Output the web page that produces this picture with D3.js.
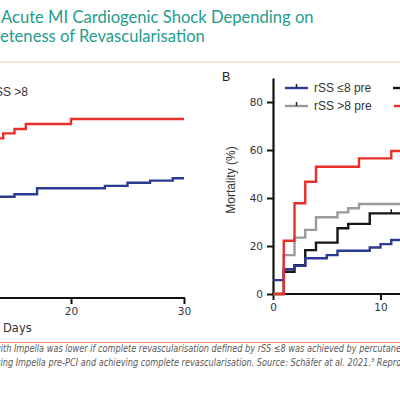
<!DOCTYPE html>
<html><head><meta charset="utf-8">
<script src="https://cdn.jsdelivr.net/npm/d3@7"></script>
<style>html,body{margin:0;padding:0;background:#fff;}svg{display:block;}</style>
</head><body>
<svg id="c" width="400" height="400"></svg>
<script>
// ---------- Data ----------
const titleLines = ["Acute MI Cardiogenic Shock Depending on", "eteness of Revascularisation"];
const captionLines = [
  "with Impella was lower if complete revascularisation defined by rSS \u22648 was achieved by percutaneous",
  "using Impella pre-PCI and achieving complete revascularisation. Source: Sch\u00e4fer at al. 2021.\u00b3 Reproduced"
];
// Panel A (partially visible): days, mortality %
const aRedDays = [13, 14, 15, 16, 20, 30];
const aRedVals = [66.5, 68.6, 70.4, 72.5, 74.6, 74.6];
const aBlueDays = [13, 15, 17, 23, 25, 27, 29, 30];
const aBlueVals = [42.2, 43.2, 45.7, 46.7, 48, 48.9, 49.9, 49.9];
const aTicks = [20, 30];
const aLegend = ["rSS >8"];
// Panel B
const bBlueDays = [0, 1, 2, 3, 5, 6, 9, 10, 11, 14];
const bBlueVals = [5.8, 10.3, 11.8, 14.9, 16.2, 18, 19.4, 20.8, 22.5, 22.5];
const bGrayDays = [0, 1, 2, 3, 4, 6, 7, 8, 14];
const bGrayVals = [0, 16.2, 23.5, 26.7, 32, 34, 35.7, 37.5, 37.5];
const bBlackDays = [0, 1, 2, 3, 4, 6, 7, 9, 14];
const bBlackVals = [0, 9.3, 12, 18.3, 21.4, 27.4, 29.2, 33.6, 33.6];
const bBlackCensor = [11];
const bRedDays = [0, 1, 2, 3, 4, 8, 11, 14];
const bRedVals = [0, 22.2, 37.8, 46.8, 53, 56.5, 59.6, 59.6];
const bYTicks = [0, 20, 40, 60, 80];
const bXTicks = [0, 10];
const bLegend = ["rSS \u22648 pre", "rSS >8 pre"];

const C = {blue:"#2d3a92", gray:"#9a9a9a", black:"#151515", red:"#e8302b", teal:"#1f9c8d", text:"#333"};

const svg = d3.select("#c");
svg.append("rect").attr("width",400).attr("height",400).attr("fill","#fff");

// ---------- Title ----------
const tfont = "Lato, 'Open Sans', sans-serif";
svg.append("text").attr("x",1).attr("y",23).attr("font-family",tfont).attr("font-size",16.6)
  .attr("fill",C.teal).text(titleLines[0]);
svg.append("text").attr("x",0).attr("y",42).attr("font-family",tfont).attr("font-size",16.6)
  .attr("fill",C.teal).text(titleLines[1]);

svg.append("line").attr("x1",0).attr("x2",400).attr("y1",62).attr("y2",62)
  .attr("stroke","#f5c3b6").attr("stroke-width",1.2);
svg.append("line").attr("x1",0).attr("x2",400).attr("y1",342.5).attr("y2",342.5)
  .attr("stroke","#f2956c").attr("stroke-width",1.2);

// caption
const cfont = "'Liberation Sans Narrow','DejaVu Sans Condensed','Liberation Sans',sans-serif";
svg.append("text").attr("transform","translate(-6,352) scale(0.875,1)").attr("font-family",cfont).attr("font-style","italic")
  .attr("font-size",10.4).attr("fill","#5a5a5a").text(captionLines[0]);
svg.append("text").attr("transform","translate(-9,366) scale(0.875,1)").attr("font-family",cfont).attr("font-style","italic")
  .attr("font-size",10.4).attr("fill","#5a5a5a").text(captionLines[1]);

const afont = "'DejaVu Sans', Verdana, sans-serif";
const lfont = "'Liberation Sans', Arial, sans-serif";

function zip(d, v){ return d.map((x,i)=>[x, v[i]]); }

// ---------- Panel A ----------
const xA = d3.scaleLinear().domain([20,30]).range([71,184]);
const yA = d3.scaleLinear().domain([0,90]).range([298,82]);
const lineA = d3.line().x(d=>xA(d[0])).y(d=>yA(d[1])).curve(d3.curveStepAfter);

const gAx = svg.append("g").attr("transform","translate(0,298)")
  .call(d3.axisBottom(xA).tickValues(aTicks).tickSize(6).tickSizeOuter(0).tickPadding(4).tickFormat(d3.format("d")));
gAx.select(".domain").remove();
gAx.append("line").attr("x1",xA(0)).attr("x2",xA(30)+1).attr("stroke","#111").attr("stroke-width",2);
gAx.selectAll(".tick line").attr("stroke","#111").attr("stroke-width",2);
gAx.selectAll(".tick text").attr("font-family",afont).attr("font-size",10.5).attr("fill",C.text);
svg.append("text").attr("x",3).attr("y",332).attr("font-family",afont).attr("font-size",11.5)
  .attr("fill",C.text).text("Days");

svg.append("path").datum(zip(aBlueDays,aBlueVals)).attr("d",lineA).attr("fill","none")
  .attr("stroke",C.blue).attr("stroke-width",2.4);
svg.append("path").datum(zip(aRedDays,aRedVals)).attr("d",lineA).attr("fill","none")
  .attr("stroke",C.red).attr("stroke-width",2.4);
svg.append("text").attr("x",28).attr("y",96).attr("text-anchor","end").attr("font-family",lfont)
  .attr("font-size",12).attr("fill",C.text).text(aLegend[0]);

// ---------- Panel B ----------
const xB = d3.scaleLinear().domain([0,10]).range([273,380.5]);
const yB = d3.scaleLinear().domain([0,90]).range([294,78]);
const lineB = d3.line().x(d=>xB(d[0])).y(d=>yB(d[1])).curve(d3.curveStepAfter);

const gBy = svg.append("g").attr("transform","translate(273,0)")
  .call(d3.axisLeft(yB).tickValues(bYTicks).tickSize(6).tickSizeOuter(0).tickPadding(4));
gBy.select(".domain").attr("stroke","#111").attr("stroke-width",2.2);
gBy.selectAll(".tick line").attr("stroke","#111").attr("stroke-width",2);
gBy.selectAll(".tick text").attr("font-family",afont).attr("font-size",10.5).attr("fill",C.text);

const gBx = svg.append("g").attr("transform","translate(0,294)")
  .call(d3.axisBottom(xB).tickValues(bXTicks).tickSize(6).tickSizeOuter(0).tickPadding(4));
gBx.select(".domain").remove();
gBx.append("line").attr("x1",272).attr("x2",410).attr("stroke","#111").attr("stroke-width",2.2);
gBx.selectAll(".tick line").attr("stroke","#111").attr("stroke-width",2);
gBx.selectAll(".tick text").attr("font-family",afont).attr("font-size",10.5).attr("fill",C.text);

svg.append("text").attr("transform","translate(235,180) rotate(-90)").attr("text-anchor","middle")
  .attr("font-family",lfont).attr("font-size",12).attr("fill",C.text).text("Mortality (%)");
svg.append("text").attr("x",222).attr("y",81).attr("font-family",lfont).attr("font-size",12.5)
  .attr("fill","#222").text("B");

const series = [
  {d:bBlackDays, v:bBlackVals, c:C.black},
  {d:bGrayDays, v:bGrayVals, c:C.gray},
  {d:bBlueDays, v:bBlueVals, c:C.blue},
  {d:bRedDays, v:bRedVals, c:C.red}
];
series.forEach(s=>{
  svg.append("path").datum(zip(s.d,s.v)).attr("d",lineB).attr("fill","none")
    .attr("stroke",s.c).attr("stroke-width",2.4);
});
// censor mark on black curve
bBlackCensor.forEach(d=>{
  const v = bBlackVals[d3.bisectRight(bBlackDays,d)-1];
  svg.append("line").attr("x1",xB(d)).attr("x2",xB(d)).attr("y1",yB(v)-4).attr("y2",yB(v))
    .attr("stroke",C.black).attr("stroke-width",1.5);
});

// legend
const legRows = [88, 106];
bLegend.forEach((t,i)=>{
  const y = legRows[i];
  svg.append("line").attr("x1",285).attr("x2",308).attr("y1",y).attr("y2",y)
    .attr("stroke",i===0?C.blue:C.gray).attr("stroke-width",2.4);
  svg.append("line").attr("x1",296.5).attr("x2",296.5).attr("y1",y-4).attr("y2",y)
    .attr("stroke","#222").attr("stroke-width",1.5);
  svg.append("text").attr("x",314).attr("y",y+4.2).attr("font-family",lfont).attr("font-size",12)
    .attr("fill",C.text).text(t);
});
svg.append("line").attr("x1",393).attr("x2",416).attr("y1",legRows[0]).attr("y2",legRows[0])
  .attr("stroke",C.black).attr("stroke-width",2.4);
svg.append("line").attr("x1",394).attr("x2",417).attr("y1",legRows[1]).attr("y2",legRows[1])
  .attr("stroke",C.red).attr("stroke-width",2.4);
</script>
</body></html>
